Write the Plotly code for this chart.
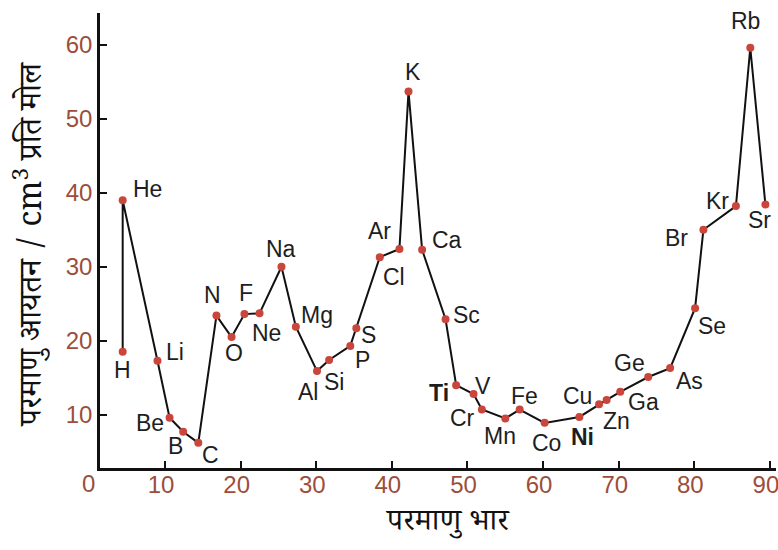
import plotly.graph_objects as go

# ---- data ----
elements = ["H", "He", "Li", "Be", "B", "C", "N", "O", "F", "Ne", "Na", "Mg", "Al", "Si",
            "P", "S", "Cl", "Ar", "K", "Ca", "Sc", "Ti", "V", "Cr", "Mn", "Fe", "Co", "Ni",
            "Cu", "Zn", "Ga", "Ge", "As", "Se", "Br", "Kr", "Rb", "Sr"]
atomic_weight = [4.4, 4.4, 9.0, 10.6, 12.4, 14.4, 16.8, 18.8, 20.5, 22.5, 25.4, 27.3, 30.1, 31.7,
                 34.5, 35.3, 38.4, 41.0, 42.2, 44.0, 47.1, 48.5, 50.8, 51.9, 55.0, 56.9, 60.2, 64.8,
                 67.4, 68.4, 70.2, 73.9, 76.8, 80.1, 81.2, 85.5, 87.4, 89.4]
atomic_volume = [18.5, 39.0, 17.3, 9.6, 7.7, 6.2, 23.4, 20.5, 23.6, 23.7, 30.0, 21.9, 15.9, 17.4,
                 19.3, 21.7, 31.3, 32.4, 53.7, 32.3, 22.9, 14.0, 12.8, 10.7, 9.5, 10.7, 8.9, 9.7,
                 11.4, 12.0, 13.1, 15.1, 16.3, 24.4, 35.0, 38.2, 59.6, 38.4]
x_ticks = [10, 20, 30, 40, 50, 60, 70, 80, 90]
y_ticks = [10, 20, 30, 40, 50, 60]
origin_label = "0"
bold_labels = ["Ti", "Ni"]

# label placement (pixel offsets from each point: dx right, dy down)
label_offsets = {
    "H": (0, 18), "He": (25, -11), "Li": (18, -9), "Be": (-20, 5), "B": (-8, 14),
    "C": (12, 12), "N": (-4, -21), "O": (2, 16), "F": (2, -21), "Ne": (7, 20),
    "Na": (0, -18), "Mg": (21, -12), "Al": (-9, 21), "Si": (5, 22), "P": (12, 14),
    "S": (12, 7), "Cl": (14, 20), "Ar": (-20, -18), "K": (4, -19), "Ca": (25, -10),
    "Sc": (21, -4), "Ti": (-17, 8), "V": (9, -8), "Cr": (-19, 8), "Mn": (-5, 18),
    "Fe": (5, -14), "Co": (2, 20), "Ni": (3, 20), "Cu": (-22, -8), "Zn": (10, 21),
    "Ga": (23, 10), "Ge": (-19, -14), "As": (19, 13), "Se": (17, 18), "Br": (-27, 8),
    "Kr": (-18, -5), "Rb": (-5, -27), "Sr": (-6, 15),
}

TICK_COLOR = "#9c4e3b"
LABEL_FONT = "Liberation Sans, Arial, sans-serif"
DEVA_FONT = "Noto Serif Devanagari, Lohit Devanagari, FreeSerif, Noto Sans Devanagari, Mangal, serif"

fig = go.Figure()
fig.add_trace(go.Scatter(
    x=atomic_weight, y=atomic_volume, mode="lines+markers",
    line=dict(color="#111111", width=2),
    marker=dict(color="#c9463c", size=8),
    cliponaxis=False, hoverinfo="skip", showlegend=False,
))

for el, xv, yv in zip(elements, atomic_weight, atomic_volume):
    dx, dy = label_offsets[el]
    txt = f"<b>{el}</b>" if el in bold_labels else el
    fig.add_annotation(x=xv, y=yv, text=txt, showarrow=False, xshift=dx, yshift=-dy,
                       xanchor="center", yanchor="middle",
                       font=dict(family=LABEL_FONT, size=23, color="#1e1e1e"))

# shared "0" at the origin corner
fig.add_annotation(x=0, y=0, xref="paper", yref="paper", text=origin_label, showarrow=False,
                   xshift=-12, yshift=-15, yanchor="middle", xanchor="center",
                   font=dict(family=LABEL_FONT, size=24, color=TICK_COLOR))

# axis titles
fig.add_annotation(x=0, y=0.5, xref="paper", yref="paper",
                   text="परमाणु आयतन / cm<sup>3</sup> प्रति मोल", textangle=-90,
                   showarrow=False, xshift=-67, yshift=-4, xanchor="center", yanchor="middle",
                   font=dict(family=DEVA_FONT, size=32, color="#111111"))
fig.add_annotation(x=0.5, y=0, xref="paper", yref="paper", text="परमाणु भार",
                   showarrow=False, xshift=9, yshift=-57, xanchor="center", yanchor="middle",
                   font=dict(family=DEVA_FONT, size=31, color="#111111"))

axis_common = dict(showline=True, linecolor="#111111", linewidth=2.5, ticks="inside",
                   ticklen=7, tickwidth=2, tickcolor="#111111", showgrid=False, zeroline=False,
                   ticklabeloverflow="allow",
                   tickfont=dict(family=LABEL_FONT, size=24, color=TICK_COLOR))
fig.update_xaxes(range=[1.4, 90.8], tickvals=x_ticks, ticklabelstandoff=-7,
                 ticklabelshift=-4, **axis_common)
fig.update_yaxes(range=[2.8, 64.3], tickvals=y_ticks, **axis_common)

fig.update_layout(width=778, height=550, margin=dict(l=100, r=2, t=13, b=82, autoexpand=False),
                  plot_bgcolor="white", paper_bgcolor="white")

fig.write_html("out.html", config={"displayModeBar": False},
               post_script="document.body.style.margin='0';document.body.style.overflow='hidden';")
